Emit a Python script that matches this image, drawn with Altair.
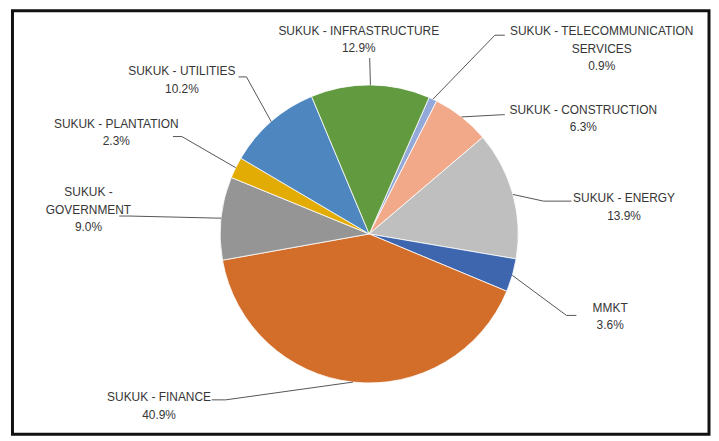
import math
import altair as alt
import pandas as pd

# ---- data (clockwise from the slice just right of 12 o'clock) ----
names = [
    "SUKUK - TELECOMMUNICATION SERVICES",
    "SUKUK - CONSTRUCTION",
    "SUKUK - ENERGY",
    "MMKT",
    "SUKUK - FINANCE",
    "SUKUK - GOVERNMENT",
    "SUKUK - PLANTATION",
    "SUKUK - UTILITIES",
    "SUKUK - INFRASTRUCTURE",
]
label_names = [
    "SUKUK - TELECOMMUNICATION\nSERVICES",
    "SUKUK - CONSTRUCTION",
    "SUKUK - ENERGY",
    "MMKT",
    "SUKUK - FINANCE",
    "SUKUK -\nGOVERNMENT",
    "SUKUK - PLANTATION",
    "SUKUK - UTILITIES",
    "SUKUK - INFRASTRUCTURE",
]
values = [0.9, 6.3, 13.9, 3.6, 40.9, 9.0, 2.3, 10.2, 12.9]
colors = ["#93A9D9", "#F1A98A", "#BFBFBF", "#3D66AF", "#D26E2A",
          "#959595", "#E2AC05", "#4E87C0", "#629A40"]

# ---- layout (page pixel coordinates) ----
OX, OY = 12.5, 9.5            # plot-area origin on the page
CX, CY, R = 371.5 - OX, 234 - OY, 150
START = math.radians(23.7)    # angle where the first slice starts
# label block: centre x, centre y of first line
label_x = [605.5, 587, 628, 614, 160, 89, 117, 183, 361]
label_y = [30, 109, 198, 308, 398, 192, 123, 70, 29]
# leader lines: elbow point and end point
elbow_x = [498, 506, 547, 570, 227, 130, 183, 248, 372]
elbow_y = [34, 114, 201, 316, 401, 216, 136, 76, 57]
end_x = [508, 508, 575, 580, 213, 120, 174, 240, 372]
end_y = [34, 114, 201, 316, 401, 216, 136, 76, 57]

FONT = "Liberation Sans"
FS = 12
TXT = "#363636"
LINE = "#555555"

df = pd.DataFrame({
    "name": names,
    "value": values,
    "idx": list(range(len(names))),
    "label": [f"{n}\n{v:.1f}%" for n, v in zip(label_names, values)],
    "lx": [x - OX for x in label_x],
    "ly": [y - OY - 4.7 for y in label_y],
    "bx": [x - OX for x in elbow_x],
    "by": [y - OY for y in elbow_y],
    "qx": [x - OX for x in end_x],
    "qy": [y - OY for y in end_y],
})

base = alt.Chart(df)

pie = base.mark_arc(radius=R, stroke="white", strokeWidth=0.8).encode(
    theta=alt.Theta("value:Q", stack=True,
                    scale=alt.Scale(range=[START, START + 2 * math.pi])),
    color=alt.Color("name:N", scale=alt.Scale(domain=names, range=colors), legend=None),
    order=alt.Order("idx:Q"),
    x=alt.value(CX),
    y=alt.value(CY),
)

edge = base.transform_window(
    cum="sum(value)", sort=[alt.SortField("idx")], frame=[None, 0]
).transform_joinaggregate(
    total="sum(value)"
).transform_calculate(
    mid=f"{START} + 2*PI*(datum.cum - datum.value/2)/datum.total"
).transform_calculate(
    ex=f"{CX} + {R}*sin(datum.mid)",
    ey=f"{CY} - {R}*cos(datum.mid)",
)

lead1 = edge.mark_rule(color=LINE, strokeWidth=1).encode(
    x=alt.X("ex:Q", scale=None, axis=None),
    y=alt.Y("ey:Q", scale=None, axis=None),
    x2="bx:Q",
    y2="by:Q",
)
lead2 = base.mark_rule(color=LINE, strokeWidth=1).encode(
    x=alt.X("bx:Q", scale=None, axis=None),
    y=alt.Y("by:Q", scale=None, axis=None),
    x2="qx:Q",
    y2="qy:Q",
)

labels = base.mark_text(
    align="center", baseline="top", lineBreak="\n", font=FONT,
    fontSize=FS, color=TXT, lineHeight=17.5,
).encode(
    x=alt.X("lx:Q", scale=None, axis=None),
    y=alt.Y("ly:Q", scale=None, axis=None),
    text="label:N",
)

chart = alt.layer(pie, lead1, lead2, labels).properties(
    width=701, height=426,
    padding={"left": 4.5, "top": 1.5, "right": 2, "bottom": 2},
    autosize="none",
    background="white",
).configure_view(stroke="#111111", strokeWidth=3)

chart.save("out.html", embed_options={"renderer": "svg", "actions": False})
